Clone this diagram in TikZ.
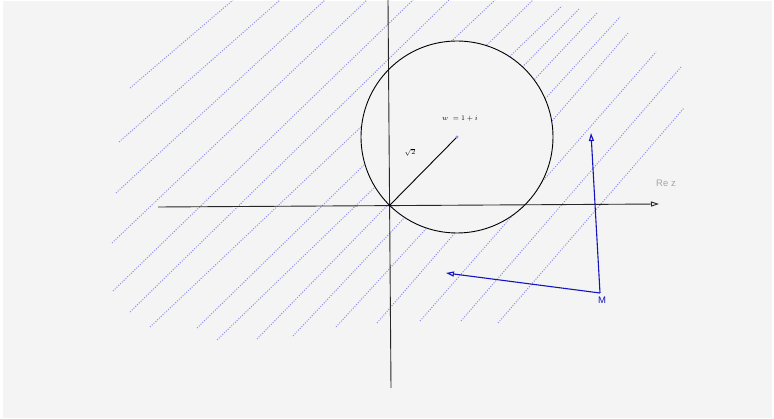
\documentclass[tikz,border=0pt]{standalone}
\usepackage{fontspec}
\setsansfont{Liberation Sans}
\usetikzlibrary{arrows.meta}
\definecolor{bggray}{RGB}{244,244,244}
\definecolor{hatchblue}{RGB}{140,140,235}
\definecolor{vecblue}{RGB}{20,20,190}
\tikzset{
  axis/.style={black!85, line width=0.9pt},
  hatch/.style={hatchblue, line width=1pt, dash pattern=on 1pt off 1.5pt},
  vec/.style={vecblue, line width=1.1pt, -{Triangle[open,length=8pt,width=5pt]}},
  mathlbl/.style={inner sep=0pt, font=\fontsize{7.5}{9}\selectfont},
  sanslbl/.style={inner sep=0pt, font=\sffamily\fontsize{9.5}{11}\selectfont},
}

\begin{document}
\begin{tikzpicture}[x=1pt,y=-1pt]
\useasboundingbox (0,0) rectangle (774,419);
\fill[white] (0,0) rectangle (774,419);
\fill[bggray] (3,1) rectangle (772,418);

% points
\coordinate (O) at (389,206);
\coordinate (W) at (457,137);
\coordinate (M) at (600,293);
\coordinate (xl) at (158,207);
\coordinate (xr) at (659,204);
\coordinate (yt) at (388,0);
\coordinate (yb) at (391,388);
\coordinate (A) at (591,133);
\coordinate (B) at (446,273);

% hatching outside the disc
\begin{scope}[even odd rule]
\clip (0,0) rectangle (774,419) (W) circle (96);
\foreach \xa/\ya/\xb/\yb in {130/88/233/0, 119/142/280/0, 116/193/325/0,
    112/243/367/0, 113/291/413/0, 130/312/449/0, 150/327/495/0,
    197/328/533/0, 217/340/562/6, 257/339/580/8, 293/336/598/12,
    336/327/620/17, 377/323/629/32, 420/321/656/52, 461/321/681/67,
    498/323/684/108}
  \draw[hatch] (\xa,\ya) -- (\xb,\yb);
\end{scope}

% axes
\draw[axis, -{Triangle[open,length=8pt,width=5pt]}] (xl) -- (xr);
\draw[axis] (yt) -- (yb);
\node[sanslbl, text=black!35] (rez) at (666,183) {Re z};

% circle |z-w| = sqrt 2
\draw[black, line width=0.9pt] (W) circle (96);
\draw[black, line width=0.9pt] (O) -- (W);
\fill[hatchblue] (W) circle (1.6);
\node[mathlbl] (wlab) at (460,119) {$w\;=1+i$};
\node[mathlbl] (rlab) at (410,152) {$\sqrt{2}$};

% vectors from M
\draw[vec] (M) -- (A);
\draw[vec] (M) -- (B);
\node[sanslbl, text=vecblue] (mlab) at (602,300) {M};
\end{tikzpicture}
\end{document}
